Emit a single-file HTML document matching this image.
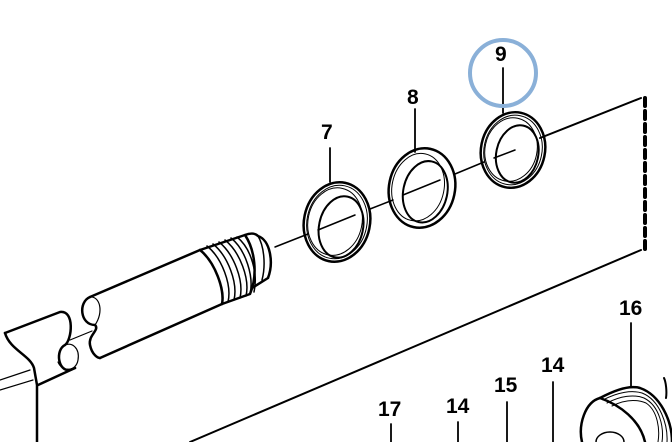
<!DOCTYPE html>
<html><head><style>
html,body{margin:0;padding:0;background:#fff;}
svg{display:block;}
text{font-family:"Liberation Sans",sans-serif;font-weight:bold;font-size:21px;fill:#000;}
</style></head><body>
<svg width="672" height="442" viewBox="0 0 672 442" xmlns="http://www.w3.org/2000/svg">
<g fill="none" stroke="#000" stroke-linecap="round" stroke-linejoin="round">
<!-- housing outline -->
<line x1="540" y1="138" x2="641" y2="98" stroke-width="2"/>
<line x1="641" y1="250" x2="190" y2="442" stroke-width="2"/>
<line x1="645" y1="98" x2="645" y2="250" stroke-width="4" stroke-dasharray="8,5"/>
<line x1="70" y1="340" x2="92" y2="331" stroke-width="1.2"/>
<!-- left piece -->
<path d="M5,333 L60,312 C75,310 72,340 65,345 C55,350 58,372 70,370 L75,368" stroke-width="2.5"/>
<path d="M65,345 C72,342 80,348 78,360 C76,372 62,372 58,362" stroke-width="1.2"/>
<path d="M75,368 L38,385" stroke-width="2.5"/>
<path d="M5,333 C10,350 30,355 34,368 L37,385 L37,442" stroke-width="2.5"/>
<line x1="0" y1="380" x2="30" y2="370" stroke-width="1.2"/>
<line x1="0" y1="390" x2="33" y2="380" stroke-width="1.2"/>
<!-- shaft tube -->
<path d="M90,297 L200,250" stroke-width="2.5"/>
<path d="M100,358 L222,304" stroke-width="2.5"/>
<path d="M90,297 C78,302 80,325 95,325 C100,330 88,335 90,345 C92,355 98,358 100,358" stroke-width="2.5"/>
<path d="M90,297 C100,296 104,312 95,325" stroke-width="1.2"/>
<path d="M200,250 C215,262 225,290 222,304" stroke-width="2.5"/>
<g stroke-width="1.5">
<path d="M207,246 C222,258 232,285 228,302"/>
<path d="M213,244 C228,256 238,283 234,300"/>
<path d="M219,242 C234,254 244,281 240,298"/>
<path d="M225,240 C240,252 250,279 246,296"/>
<path d="M231,238 C246,250 254,277 250,294"/>
<path d="M237,237 C252,249 258,275 254,292"/>
</g>
<path d="M200,250 L245,235 C255,250 258,275 250,294 L222,304" stroke-width="2.5"/>
<path d="M245,235 C250,233 255,233 258,236 C270,240 274,262 268,278 L252,288" stroke-width="2.5"/>
<path d="M258,236 C264,246 266,265 262,280" stroke-width="1.5"/>
<!-- axis segments -->
<g stroke-width="1.5">
<line x1="275" y1="247" x2="308" y2="234"/>
<line x1="318" y1="230" x2="355" y2="215"/>
<line x1="370" y1="209" x2="393" y2="200"/>
<line x1="403" y1="195" x2="440" y2="180"/>
<line x1="455" y1="174" x2="484" y2="162"/>
<line x1="494" y1="158" x2="515" y2="150"/>
</g>
<!-- ring 7 -->
<g transform="rotate(12 337 222)">
<ellipse cx="337" cy="222" rx="33" ry="40" stroke-width="2.5"/>
<ellipse cx="337" cy="222" rx="30" ry="37" stroke-width="1"/>
<ellipse cx="335" cy="222" rx="27" ry="34" stroke-width="1"/>
<ellipse cx="342" cy="226" rx="22" ry="31" stroke-width="2"/>
</g>
<!-- ring 8 -->
<g transform="rotate(12 422 188)">
<ellipse cx="422" cy="188" rx="33" ry="40" stroke-width="2.5"/>
<ellipse cx="418" cy="188" rx="26" ry="34" stroke-width="1"/>
<ellipse cx="426" cy="191" rx="22" ry="31" stroke-width="2"/>
</g>
<!-- ring 9 -->
<g transform="rotate(12 513 150)">
<ellipse cx="513" cy="150" rx="32" ry="38" stroke-width="2.5"/>
<ellipse cx="513" cy="150" rx="29" ry="35" stroke-width="1"/>
<ellipse cx="511" cy="150" rx="26" ry="32" stroke-width="1"/>
<ellipse cx="518" cy="153" rx="21" ry="29" stroke-width="2"/>
</g>
<!-- leader lines -->
<g stroke-width="1.8">
<line x1="330" y1="148" x2="330" y2="182"/>
<line x1="415" y1="109" x2="415" y2="152"/>
<line x1="503" y1="68" x2="503" y2="113"/>
<line x1="391" y1="424" x2="391" y2="442"/>
<line x1="458" y1="422" x2="458" y2="442"/>
<line x1="507" y1="402" x2="507" y2="442"/>
<line x1="553" y1="382" x2="553" y2="442"/>
<line x1="631" y1="323" x2="631" y2="387"/>
</g>
<!-- pulley 16 -->
<path d="M600,398 C615,390 630,385 640,388 C660,395 672,420 672,442" stroke-width="2.5"/>
<path d="M603,400 C618,392 632,390 642,393 C660,400 668,425 667,442" stroke-width="1"/>
<path d="M607,403 C620,396 634,394 644,398 C660,406 664,428 662,442" stroke-width="1"/>
<path d="M612,406 C624,400 636,399 646,403 C658,411 660,430 658,442" stroke-width="1"/>
<path d="M600,398 C585,402 578,425 582,442" stroke-width="2.5"/>
<path d="M600,398 C620,405 640,420 645,442" stroke-width="2.5"/>
<ellipse cx="610" cy="442" rx="14" ry="10" stroke-width="1.5"/>
<path d="M664,378 C666,382 667,392 666,398" stroke-width="2"/>
</g>
<circle cx="503" cy="73" r="33" fill="none" stroke="#8ab0d8" stroke-width="4"/>
<text x="321" y="139">7</text>
<text x="407" y="104">8</text>
<text x="495" y="61">9</text>
<text x="378" y="416">17</text>
<text x="446" y="413">14</text>
<text x="494" y="392">15</text>
<text x="541" y="372">14</text>
<text x="619" y="315">16</text>
</svg>
</body></html>
